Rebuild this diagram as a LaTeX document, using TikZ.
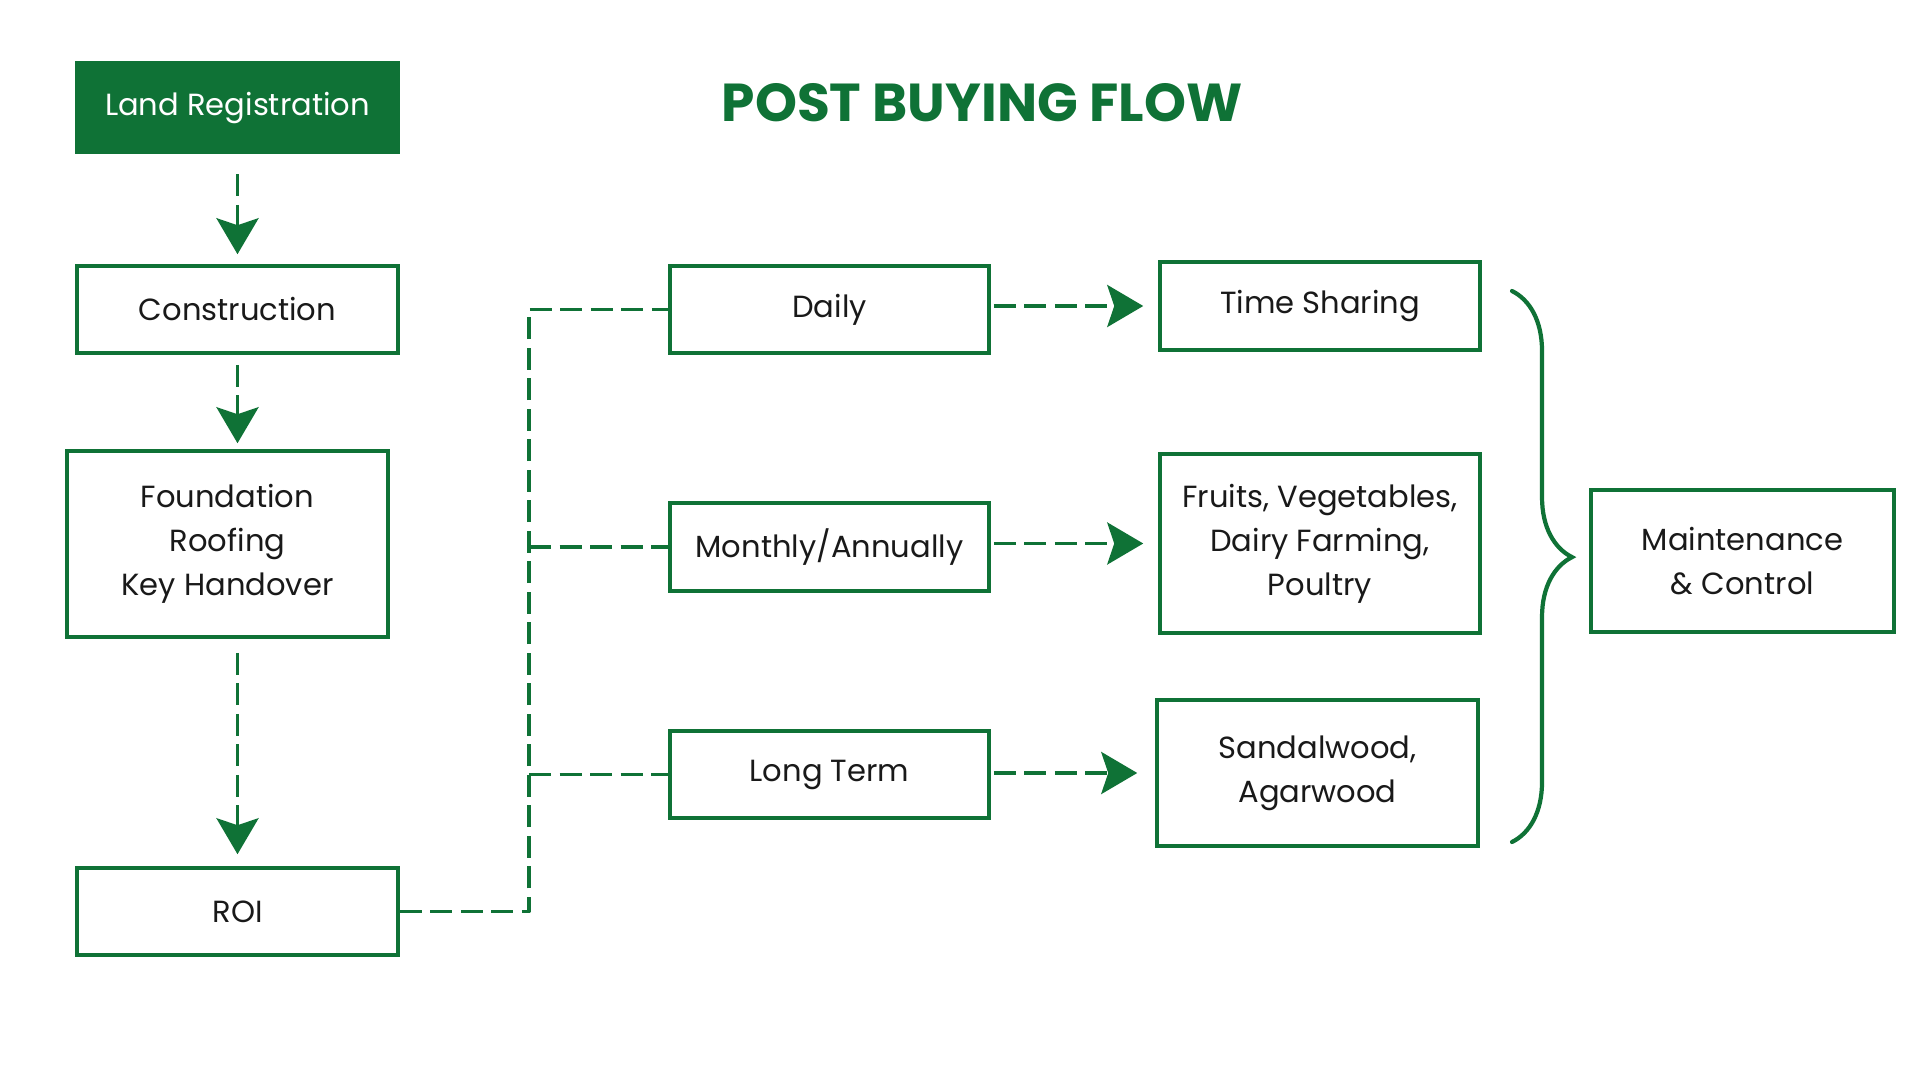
\documentclass[tikz,border=0pt]{standalone}
\usepackage{fontspec}
\setmainfont{Poppins}
\usepackage{tikz}
\usetikzlibrary{arrows.meta,decorations.pathreplacing}
\definecolor{leaf}{HTML}{0F7236}
\tikzset{
    every node/.style={rectangle, draw=leaf, line width=1pt, inner sep=0pt,
    	align=center, text=black!90, font=\fontsize{8.7}{12.5}\selectfont}
}
\tikzset{
    every edge/.append style={leaf, line width=1.1pt, dash pattern=on 2.2mm off 0.85mm}
}
\tikzset{
	flow/.style={-{Stealth[length=3.6mm, width=4.2mm, inset=0.7mm]}},
	link/.style={draw=leaf, line width=1.1pt, line join=round, dash pattern=on 2.2mm off 0.85mm},
	curly/.style={draw=leaf, line width=1.2pt, line cap=round,
		decorate, decoration={brace, amplitude=6mm, aspect=0.483}}
}

\begin{document}
\begin{tikzpicture}
	\fill[white] (0cm, 0cm) rectangle (19.2cm, -10.8cm);
	\useasboundingbox (0cm, 0cm) rectangle (19.2cm, -10.8cm);

	\node (title) [draw=none, text=leaf, font=\fontsize{15.2}{18}\selectfont\bfseries] at (9.82cm, -1.03cm) {POST BUYING FLOW};

	\node (land) [fill=leaf, text=white, minimum width=3.22cm, minimum height=0.9cm] at (2.375cm, -1.075cm) {Land Registration};
	\node (cons) [minimum width=3.21cm, minimum height=0.87cm] at (2.375cm, -3.095cm) {Construction};
	\node (found) [minimum width=3.21cm, minimum height=1.86cm] at (2.275cm, -5.44cm) {Foundation\\Roofing\\Key Handover};
	\node (roi) [minimum width=3.21cm, minimum height=0.87cm] at (2.375cm, -9.115cm) {ROI};

	\node (daily) [minimum width=3.19cm, minimum height=0.87cm] at (8.295cm, -3.095cm) {Daily};
	\node (month) [minimum width=3.19cm, minimum height=0.88cm] at (8.295cm, -5.47cm) {Monthly/Annually};
	\node (long) [minimum width=3.19cm, minimum height=0.87cm] at (8.295cm, -7.745cm) {Long Term};

	\node (time) [minimum width=3.2cm, minimum height=0.88cm] at (13.2cm, -3.06cm) {Time Sharing};
	\node (fruit) [minimum width=3.2cm, minimum height=1.79cm] at (13.2cm, -5.435cm) {Fruits, Vegetables,\\Dairy Farming,\\Poultry};
	\node (sandal) [minimum width=3.21cm, minimum height=1.46cm] at (13.175cm, -7.73cm) {Sandalwood,\\Agarwood};

	\node (maint) [minimum width=3.03cm, minimum height=1.42cm] at (17.425cm, -5.61cm) {Maintenance\\\& Control};

	\coordinate (trunk) at (5.29cm, -9.1cm);
	\coordinate (btop) at (15.12cm, -2.91cm);
	\coordinate (bbot) at (15.12cm, -8.42cm);

	% left column
	\draw (land) edge [flow, shorten <=2mm, shorten >=1mm] (cons);
	\draw (cons) edge [flow, shorten <=1mm, shorten >=0.6mm] (cons |- found.north);
	\draw (cons |- found.south) edge [flow, shorten <=1.4mm, shorten >=1.2mm] (roi);

	% roi to the three terms
	\draw[link] (roi.east) -| (trunk |- daily.west) -- (daily.west);
	\draw (trunk |- month.west) edge (month.west);
	\draw (trunk |- long.west) edge (long.west);

	\draw (daily.east |- time.west) edge [flow, shorten <=0.3mm, shorten >=1.5mm] (time.west);
	\draw (month.east |- fruit.west) edge [flow, shorten <=0.3mm, shorten >=1.5mm] (fruit.west);
	\draw (long.east |- sandal.west) edge [flow, shorten <=0.3mm, shorten >=1.8mm] (sandal.west);

	\draw[curly] (btop) -- (bbot);
\end{tikzpicture}
\end{document}
